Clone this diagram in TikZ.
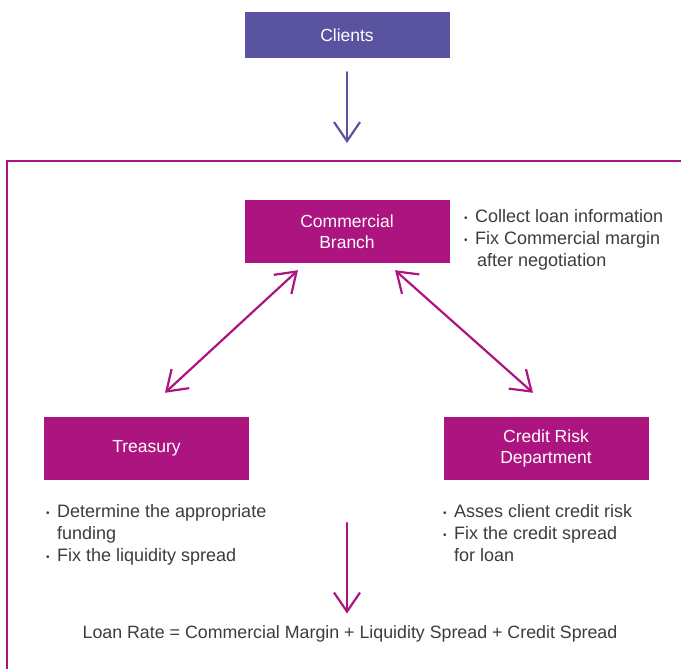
\documentclass[tikz,border=0pt]{standalone}
\usepackage{fontspec}
\setmainfont{Liberation Sans}
\usetikzlibrary{arrows.meta}

\definecolor{clientblue}{HTML}{5953A0}
\definecolor{bankpink}{HTML}{AC1480}
\definecolor{notegray}{HTML}{3C3C3C}

\newcommand{\bul}{\makebox[11pt][l]{\raisebox{1pt}{\fontsize{10}{10}\selectfont •}}}

\begin{document}
\begin{tikzpicture}[x=1pt, y=-1pt,
        unit/.style={fill=bankpink, text=white, minimum width=205pt, minimum height=63pt,
                     align=center, inner sep=0pt, font=\fontsize{17.5}{21}\selectfont},
        note/.style={text=notegray, align=left, inner sep=0pt, anchor=north west,
                     font=\fontsize{18}{22}\selectfont},
        flow/.style={line width=2.2pt, line cap=round, -{Straight Barb[length=19pt,width=26pt]}}]
    \useasboundingbox (0,0) rectangle (681,669);

    \node [unit, fill=clientblue, minimum height=46pt] (clients) at (347,35) {Clients};
    \coordinate (entry) at (347,143);
    \draw [flow, draw=clientblue] ([yshift=-14pt]clients.south) -- (entry);

    % bank frame
    \draw [bankpink, line width=2.8pt] (681,161) -- (7,161) -- (7,669);

    \node [unit] (branch) at (347,231.5) {Commercial\\Branch};
    \node [unit] (treasury) at (146.5,448.5) {Treasury};
    \node [unit] (risk) at (546,448.5) {Credit Risk\\Department};

    \node [note] (branchnote) at (464,209) {\bul Collect loan information\\\bul Fix Commercial margin\\\hspace*{13pt}after negotiation};
    \node [note] (treasurynote) at (46,504) {\bul Determine the appropriate\\\hspace*{11pt}funding\\\bul Fix the liquidity spread};
    \node [note] (risknote) at (443,504) {\bul Asses client credit risk\\\bul Fix the credit spread\\\hspace*{11pt}for loan};

    \draw [flow, draw=bankpink, {Straight Barb[length=19pt,width=26pt]}-{Straight Barb[length=19pt,width=26pt]}]
        ([xshift=-49pt,yshift=-7pt]branch.south) -- ([xshift=18.5pt,yshift=24pt]treasury.north);
    \draw [flow, draw=bankpink, {Straight Barb[length=19pt,width=26pt]}-{Straight Barb[length=19pt,width=26pt]}]
        ([xshift=48pt,yshift=-7pt]branch.south) -- ([xshift=-13pt,yshift=24pt]risk.north);

    \node [text=notegray, inner sep=0pt, font=\fontsize{17.8}{20}\selectfont] (rate) at (350,634)
        {Loan Rate = Commercial Margin + Liquidity Spread + Credit Spread};
    \coordinate (merge) at (347,523);
    \draw [flow, draw=bankpink] (merge) -- (merge |- rate.north) [shorten >=12pt];
\end{tikzpicture}
\end{document}
